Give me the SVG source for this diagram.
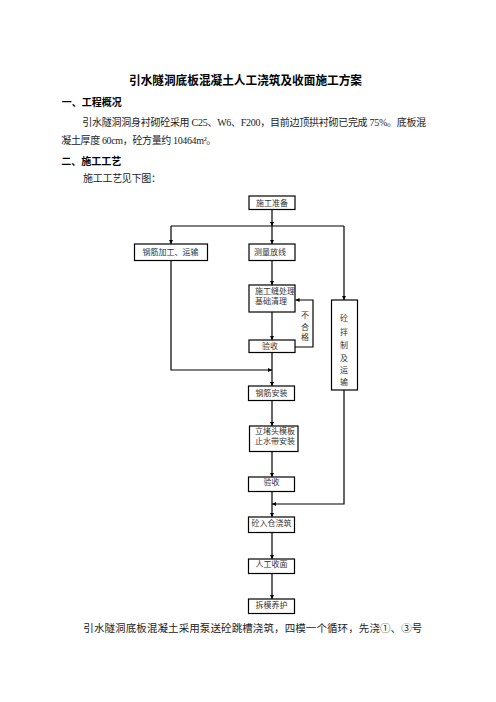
<svg xmlns="http://www.w3.org/2000/svg" width="496" height="702" viewBox="0 0 496 702">
<defs>
<marker id="ah" viewBox="0 0 6 6" refX="6" refY="3" markerWidth="4" markerHeight="4" orient="auto" markerUnits="userSpaceOnUse">
<path d="M0,0 L6,3 L0,6 z" fill="#000"/>
</marker>
</defs>
<style>
.t{font-family:"Liberation Serif","Noto Sans CJK SC",serif;fill:#222}
.h{font-family:"Liberation Serif","Noto Sans CJK SC",serif;font-weight:bold;fill:#000}
.b{fill:#fff;stroke:#000;stroke-width:1.2}
.bt{font-family:"Liberation Serif","Noto Sans CJK SC",serif;font-size:8px;fill:#333}
.c{fill:none;stroke:#000;stroke-width:1.2}
</style>
<rect width="496" height="702" fill="#fff"/>
<text class="h" x="245.5" y="84.6" font-size="12" text-anchor="middle" textLength="233" lengthAdjust="spacingAndGlyphs">引水隧洞底板混凝土人工浇筑及收面施工方案</text>
<text class="h" x="61.7" y="105.8" font-size="10" textLength="60" lengthAdjust="spacingAndGlyphs">一、工程概况</text>
<text class="t" x="82.3" y="126.3" font-size="10" textLength="344" lengthAdjust="spacing">引水隧洞洞身衬砌砼采用 C25、W6、F200，目前边顶拱衬砌已完成 75%。底板混</text>
<text class="t" x="61.3" y="144.3" font-size="10" textLength="155" lengthAdjust="spacing">凝土厚度 60cm，砼方量约 10464m²。</text>
<text class="h" x="61.3" y="164.5" font-size="10" textLength="60" lengthAdjust="spacingAndGlyphs">二、施工工艺</text>
<text class="t" x="83" y="182.3" font-size="10" textLength="78" lengthAdjust="spacing">施工工艺见下图：</text>
<text class="t" x="83.3" y="632.3" font-size="10.5" textLength="339" lengthAdjust="spacing">引水隧洞底板混凝土采用泵送砼跳槽浇筑，四模一个循环，先浇①、③号</text>

<g id="connectors">
<path class="c" d="M272,209.5 V226" marker-end="url(#ah)"/>
<path class="c" d="M171,226 H344"/>
<path class="c" d="M272,226 V244" marker-end="url(#ah)"/>
<path class="c" d="M171,226 V244" marker-end="url(#ah)"/>
<path class="c" d="M344,226 V300" marker-end="url(#ah)"/>
<path class="c" d="M272,260.5 V285" marker-end="url(#ah)"/>
<path class="c" d="M272,312 V340" marker-end="url(#ah)"/>
<path class="c" d="M295,347 H313 V300 H295.5" marker-end="url(#ah)"/>
<path class="c" d="M171,260.5 V370 H272" marker-end="url(#ah)"/>
<path class="c" d="M272,352.5 V386" marker-end="url(#ah)"/>
<path class="c" d="M272,400.5 V426" marker-end="url(#ah)"/>
<path class="c" d="M272,451.5 V477" marker-end="url(#ah)"/>
<path class="c" d="M272,491.5 V517" marker-end="url(#ah)"/>
<path class="c" d="M344,390 V504 H272" marker-end="url(#ah)"/>
<path class="c" d="M272,532.5 V559" marker-end="url(#ah)"/>
<path class="c" d="M272,573.5 V599" marker-end="url(#ah)"/>
</g>

<g id="n-prep"><rect class="b" x="249" y="196" width="46" height="13.5"/><text class="bt" x="272" y="205.7" text-anchor="middle">施工准备</text></g>
<g id="n-rebar"><rect class="b" x="134.5" y="244" width="73" height="16.5"/><text class="bt" x="170.5" y="255.3" text-anchor="middle">钢筋加工、运输</text></g>
<g id="n-survey"><rect class="b" x="249" y="244" width="46" height="16.5"/><text class="bt" x="270" y="255.3" text-anchor="middle">测量放线</text></g>
<g id="n-joint"><rect class="b" x="249" y="285" width="46" height="27"/><text class="bt" x="255" y="293.7">施工缝处理</text><text class="bt" x="255" y="303.7">基础清理</text></g>
<g id="n-check1"><rect class="b" x="249" y="340" width="46" height="12.5"/><text class="bt" x="270" y="349" text-anchor="middle">验收</text></g>
<g id="l-fail"><text class="bt" x="305" y="318" text-anchor="middle">不</text><text class="bt" x="305" y="329.5" text-anchor="middle">合</text><text class="bt" x="305" y="340" text-anchor="middle">格</text></g>
<g id="n-concrete"><rect class="b" x="331.5" y="300" width="26" height="90"/>
<text class="bt" x="344" y="321.3" text-anchor="middle">砼</text>
<text class="bt" x="344" y="334.5" text-anchor="middle">拌</text>
<text class="bt" x="344" y="347.7" text-anchor="middle">制</text>
<text class="bt" x="344" y="360.9" text-anchor="middle">及</text>
<text class="bt" x="344" y="373" text-anchor="middle">运</text>
<text class="bt" x="344" y="384.7" text-anchor="middle">输</text></g>
<g id="n-rebarinst"><rect class="b" x="248.5" y="386" width="46" height="14.5"/><text class="bt" x="271.5" y="396" text-anchor="middle">钢筋安装</text></g>
<g id="n-form"><rect class="b" x="249.5" y="426" width="48.5" height="25.5"/><text class="bt" x="255" y="434">立堵头模板</text><text class="bt" x="255" y="444">止水带安装</text></g>
<g id="n-check2"><rect class="b" x="248.5" y="477" width="46" height="14.5"/><text class="bt" x="271.5" y="485" text-anchor="middle">验收</text></g>
<g id="n-pour"><rect class="b" x="248.5" y="517" width="46" height="15.5"/><text class="bt" x="271.5" y="526.3" text-anchor="middle">砼入仓浇筑</text></g>
<g id="n-finish"><rect class="b" x="248.5" y="559" width="46" height="14.5"/><text class="bt" x="271.5" y="567" text-anchor="middle">人工收面</text></g>
<g id="n-cure"><rect class="b" x="248.5" y="599" width="46" height="14.5"/><text class="bt" x="271.5" y="608" text-anchor="middle">拆模养护</text></g>
</svg>
